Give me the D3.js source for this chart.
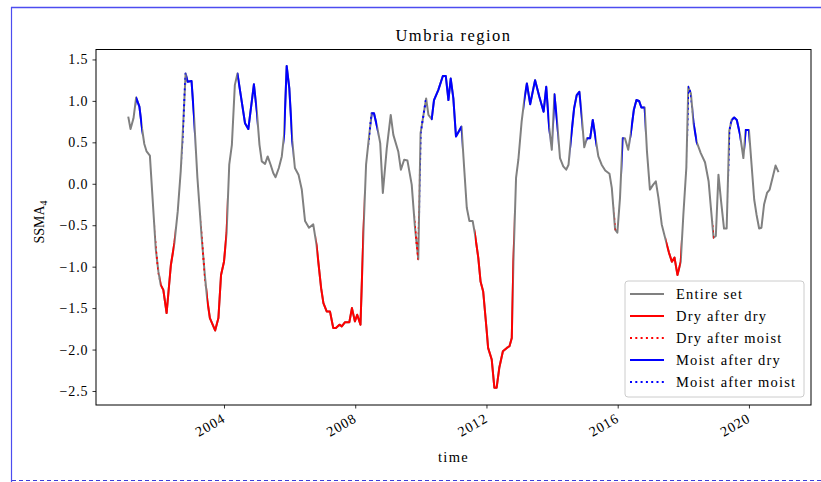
<!DOCTYPE html>
<html><head><meta charset="utf-8">
<script src="https://cdn.jsdelivr.net/npm/d3@7"></script>
<style>
html,body{margin:0;padding:0;background:#fff;}
svg{display:block;font-family:"Liberation Serif","DejaVu Serif",serif;}
</style></head>
<body>
<svg id="chart" width="821" height="482"></svg>
<script>
// ---- data (decimal years, SSMA_4 values) ----
const years = [2001.08,2001.15,2001.24,2001.32,2001.42,2001.50,2001.57,2001.64,2001.74,2001.92,
2002.00,2002.07,2002.15,2002.25,2002.38,2002.49,2002.59,2002.68,2002.74,2002.83,
2002.89,2003.01,2003.09,2003.19,2003.32,2003.42,2003.49,2003.57,2003.73,2003.83,
2003.91,2004.00,2004.08,2004.16,2004.24,2004.33,2004.41,2004.54,2004.64,2004.74,
2004.91,2005.00,2005.08,2005.15,2005.25,2005.33,2005.42,2005.50,2005.57,2005.67,
2005.76,2005.83,2005.91,2005.99,2006.08,2006.16,2006.27,2006.37,2006.47,2006.59,
2006.72,2006.82,2006.96,2007.03,2007.13,2007.23,2007.33,2007.41,2007.52,2007.59,
2007.69,2007.82,2007.90,2007.99,2008.06,2008.16,2008.25,2008.33,2008.42,2008.50,
2008.57,2008.67,2008.76,2008.84,2008.96,2009.08,2009.16,2009.31,2009.39,2009.49,
2009.59,2009.72,2009.82,2009.92,2009.99,2010.16,2010.23,2010.33,2010.40,2010.53,
2010.67,2010.76,2010.84,2010.91,2010.99,2011.07,2011.24,2011.32,2011.40,2011.48,
2011.58,2011.65,2011.75,2011.82,2011.90,2012.00,2012.05,2012.16,2012.24,2012.31,
2012.39,2012.50,2012.62,2012.70,2012.77,2012.82,2012.90,2012.97,2013.07,2013.15,
2013.23,2013.33,2013.48,2013.61,2013.74,2013.82,2013.91,2013.99,2014.07,2014.16,
2014.24,2014.34,2014.43,2014.50,2014.57,2014.67,2014.75,2014.83,2014.90,2014.98,
2015.06,2015.16,2015.24,2015.34,2015.41,2015.51,2015.62,2015.75,2015.82,2015.92,
2015.99,2016.07,2016.15,2016.22,2016.32,2016.40,2016.49,2016.57,2016.65,2016.72,
2016.82,2016.89,2016.98,2017.08,2017.16,2017.24,2017.34,2017.48,2017.56,2017.65,
2017.73,2017.82,2017.92,2018.00,2018.09,2018.15,2018.23,2018.31,2018.41,2018.53,
2018.66,2018.77,2018.84,2018.92,2018.99,2019.07,2019.15,2019.24,2019.32,2019.40,
2019.47,2019.55,2019.63,2019.73,2019.83,2019.90,2020.00,2020.08,2020.16,2020.23,
2020.31,2020.38,2020.46,2020.55,2020.63,2020.73,2020.81,2020.90];
const ssma = [0.81,0.66,0.79,1.04,0.93,0.67,0.48,0.39,0.34,-0.79,
-1.06,-1.22,-1.28,-1.56,-0.98,-0.71,-0.33,0.15,0.59,1.33,
1.23,1.24,0.79,0.07,-0.65,-1.12,-1.40,-1.62,-1.77,-1.62,
-1.10,-0.94,-0.59,0.23,0.47,1.19,1.33,0.99,0.73,0.66,
1.20,0.87,0.47,0.27,0.24,0.33,0.23,0.13,0.08,0.19,
0.33,0.59,1.42,1.15,0.52,0.19,0.11,-0.07,-0.45,-0.53,
-0.49,-0.74,-1.26,-1.44,-1.54,-1.54,-1.74,-1.74,-1.70,-1.72,
-1.67,-1.67,-1.50,-1.66,-1.58,-1.70,-0.59,0.23,0.57,0.85,
0.85,0.68,0.49,-0.11,0.43,0.83,0.59,0.39,0.17,0.29,
0.28,-0.01,-0.53,-0.91,0.61,1.03,0.83,0.78,1.01,1.13,
1.30,1.30,1.01,1.27,1.03,0.57,0.69,0.19,-0.29,-0.45,
-0.45,-0.61,-0.89,-1.18,-1.30,-1.74,-1.98,-2.12,-2.46,-2.46,
-2.22,-2.02,-1.98,-1.96,-1.86,-0.94,0.07,0.29,0.75,1.01,
1.21,0.96,1.25,1.05,0.87,1.17,0.68,0.41,1.08,0.71,
0.31,0.21,0.17,0.23,0.53,0.91,1.07,1.11,0.83,0.44,
0.55,0.55,0.77,0.51,0.33,0.23,0.16,0.12,-0.05,-0.55,
-0.59,-0.17,0.55,0.55,0.41,0.61,0.89,1.01,1.00,0.92,
0.92,0.39,-0.07,-0.01,0.03,-0.17,-0.49,-0.71,-0.83,-0.94,
-0.89,-1.10,-0.94,-0.37,0.19,1.17,1.09,0.73,0.50,0.37,
0.26,0.03,-0.29,-0.65,-0.63,0.11,-0.21,-0.54,-0.54,0.64,
0.77,0.80,0.77,0.59,0.31,0.65,0.65,0.23,-0.19,-0.37,
-0.54,-0.53,-0.25,-0.11,-0.07,0.09,0.22,0.14];

// episodes: type, start year, end year
const epType  = ['md','dm','dd','mm','md','dm','dd','md','md','dd','mm','md','dm','mm','md','dd','md','md','md','md','dm','md','md','dd','mm','md','dm','mm','md','md'];
const epStart = [2001.32,2001.92,2002.06,2002.74,2002.86,2003.32,2003.48,2004.41,2005.83,2006.82,2008.42,2008.50,2009.82,2009.99,2010.31,2011.65,2013.15,2014.05,2014.57,2015.06,2015.91,2016.14,2016.40,2017.48,2018.14,2018.31,2018.91,2019.39,2019.47,2019.88];
const epEnd   = [2001.50,2002.00,2002.49,2002.83,2003.09,2003.42,2004.08,2005.00,2006.08,2008.25,2008.50,2008.67,2009.92,2010.16,2011.24,2012.82,2013.91,2014.16,2014.90,2015.34,2015.94,2016.18,2016.82,2017.92,2018.24,2018.41,2018.94,2019.47,2019.73,2020.00];

const yTicks = [1.5,1.0,0.5,0.0,-0.5,-1.0,-1.5,-2.0,-2.5];
const xTickYears = [2004,2008,2012,2016,2020];
const legendLabels = ['Entire set','Dry after dry','Dry after moist','Moist after dry','Moist after moist'];
const legendTypes = ['all','dd','dm','md','mm'];

// ---- helpers ----
function decToDate(t){
  const y = Math.floor(t);
  const s = Date.UTC(y,0,1), e = Date.UTC(y+1,0,1);
  return new Date(s + (t - y) * (e - s));
}
const styles = {
  all:{color:'#808080', dash:null},
  dd:{color:'#ff0000', dash:null},
  dm:{color:'#ff0000', dash:'2,3.3'},
  md:{color:'#0000ff', dash:null},
  mm:{color:'#0000ff', dash:'2,3.3'}
};

const svg = d3.select('#chart');
const L = 96, R = 811, T = 49.5, B = 405;

// page frame
svg.append('line').attr('x1',11).attr('x2',821).attr('y1',7.5).attr('y2',7.5).attr('stroke','#4d4df0').attr('stroke-width',1.5);
svg.append('line').attr('x1',11.5).attr('x2',11.5).attr('y1',7).attr('y2',482).attr('stroke','#4d4df0').attr('stroke-width',1.2);
svg.append('line').attr('x1',12).attr('x2',821).attr('y1',480.5).attr('y2',480.5).attr('stroke','#3d3dd8').attr('stroke-width',1).attr('stroke-dasharray','4,3');

const x = d3.scaleUtc().domain([decToDate(2000.099), decToDate(2021.89)]).range([L, R]);
const y = d3.scaleLinear().domain([-2.669, 1.620]).range([B, T]);

const data = years.map((t,i)=>({d:decToDate(t), v:ssma[i]}));
const line = d3.line().x(p=>x(p.d)).y(p=>y(p.v));

const defs = svg.append('defs');
defs.append('clipPath').attr('id','axclip').append('rect').attr('x',L).attr('y',T).attr('width',R-L).attr('height',B-T);

// entire set
svg.append('path').datum(data).attr('d',line).attr('fill','none')
  .attr('stroke',styles.all.color).attr('stroke-width',2).attr('stroke-linejoin','round')
  .attr('clip-path','url(#axclip)');

// episodes
epType.forEach((tp,i)=>{
  const id = 'ep'+i;
  const x0 = x(decToDate(epStart[i])), x1 = x(decToDate(epEnd[i]));
  defs.append('clipPath').attr('id',id).append('rect')
    .attr('x',x0).attr('y',T).attr('width',Math.max(0.5,x1-x0)).attr('height',B-T);
  const st = styles[tp];
  svg.append('path').datum(data).attr('d',line).attr('fill','none')
    .attr('stroke',st.color).attr('stroke-width',2).attr('stroke-linejoin','round')
    .attr('stroke-dasharray',st.dash).attr('clip-path','url(#'+id+')');
});

// axes
const fmtY = v => (v<0?'\u2212':'') + Math.abs(v).toFixed(1);
const yAxis = d3.axisLeft(y).tickValues(yTicks).tickFormat(fmtY).tickSize(3.5).tickPadding(4);
const gy = svg.append('g').attr('transform',`translate(${L},0)`).call(yAxis);
gy.select('.domain').remove();
gy.selectAll('.tick line').attr('stroke','#000').attr('stroke-width',0.8);
gy.selectAll('.tick text').attr('font-size',14).attr('font-family','Liberation Serif, serif').attr('fill','#000')
  .attr('letter-spacing',0.9);

const xAxis = d3.axisBottom(x).tickValues(xTickYears.map(yr=>new Date(Date.UTC(yr,0,1))))
  .tickFormat(d=>String(d.getUTCFullYear())).tickSize(3.5).tickPadding(4);
const gx = svg.append('g').attr('transform',`translate(0,${B})`).call(xAxis);
gx.select('.domain').remove();
gx.selectAll('.tick line').attr('stroke','#000').attr('stroke-width',0.8);
gx.selectAll('.tick text').attr('font-size',14).attr('font-family','Liberation Serif, serif').attr('fill','#000')
  .attr('letter-spacing',1).attr('text-anchor','end').attr('dy',null).attr('y',null)
  .attr('transform','translate(2,16) rotate(-30)');

// frame
svg.append('rect').attr('x',L).attr('y',T).attr('width',R-L).attr('height',B-T)
  .attr('fill','none').attr('stroke','#000').attr('stroke-width',1);

// title and labels
svg.append('text').attr('x',(L+R)/2).attr('y',41).attr('text-anchor','middle')
  .attr('font-size',16.5).attr('letter-spacing',1.5).text('Umbria region');
svg.append('text').attr('x',(L+R)/2).attr('y',462).attr('text-anchor','middle')
  .attr('font-size',14.5).attr('letter-spacing',1.3).text('time');
const yl = svg.append('text').attr('transform','translate(44,222) rotate(-90)')
  .attr('text-anchor','middle').attr('font-size',14);
yl.append('tspan').text('SSMA');
yl.append('tspan').attr('font-size',10).attr('dy',3).text('4');

// legend
const lg = svg.append('g');
lg.append('rect').attr('x',625).attr('y',281).attr('width',179).attr('height',116).attr('rx',3)
  .attr('fill','#fff').attr('fill-opacity',0.8).attr('stroke','#cccccc').attr('stroke-width',1);
legendTypes.forEach((tp,i)=>{
  const yy = 294 + i*22;
  const st = styles[tp];
  lg.append('line').attr('x1',630).attr('x2',664).attr('y1',yy).attr('y2',yy)
    .attr('stroke',st.color).attr('stroke-width',2).attr('stroke-dasharray',st.dash);
  lg.append('text').attr('x',676).attr('y',yy+5).attr('font-size',14.5).attr('letter-spacing',1.2).text(legendLabels[i]);
});
</script>
</body></html>
